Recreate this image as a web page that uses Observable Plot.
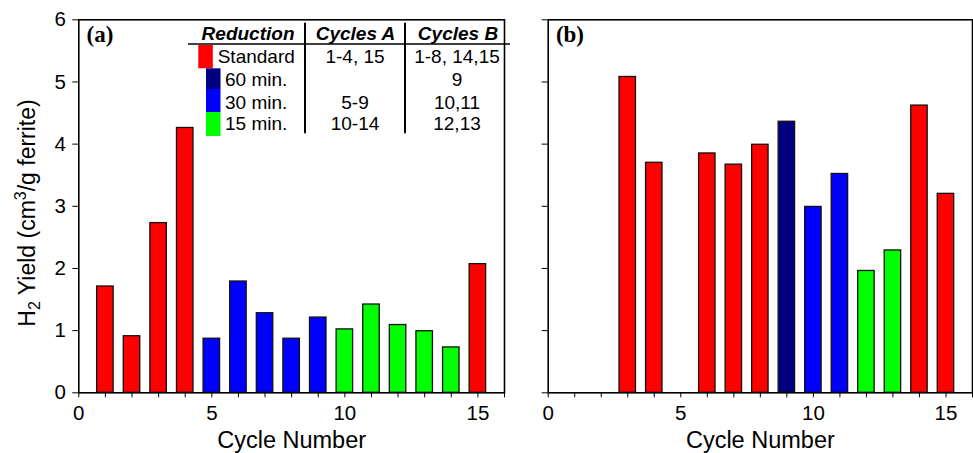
<!DOCTYPE html>
<html>
<head>
<meta charset="utf-8">
<script src="https://cdn.jsdelivr.net/npm/d3@7"></script>
<script src="https://cdn.jsdelivr.net/npm/@observablehq/plot@0.6"></script>
<style>
  body { margin: 0; background: white; }
  #charts { display: flex; width: 973px; height: 453px; }
  #charts svg { display: block; }
</style>
</head>
<body>
<div id="charts"></div>
<script>
// Cycle numbers shared by both panels
const cycles = [1, 2, 3, 4, 5, 6, 7, 8, 9, 10, 11, 12, 13, 14, 15];

// Panel (a): H2 yield per cycle and reduction treatment
const yieldA = [1.71, 0.91, 2.73, 4.26, 0.87, 1.79, 1.28, 0.87, 1.21, 1.02, 1.42, 1.09, 0.99, 0.73, 2.07];
const reductionA = ["Standard", "Standard", "Standard", "Standard",
  "30 min.", "30 min.", "30 min.", "30 min.", "30 min.",
  "15 min.", "15 min.", "15 min.", "15 min.", "15 min.", "Standard"];

// Panel (b): cycles 1, 2 and 5 gave no yield
const yieldB = [0, 0, 5.08, 3.70, 0, 3.85, 3.67, 3.99, 4.36, 2.99, 3.52, 1.96, 2.29, 4.62, 3.20];
const reductionB = ["Standard", "Standard", "Standard", "Standard", "Standard", "Standard", "Standard", "Standard",
  "60 min.", "30 min.", "30 min.", "15 min.", "15 min.", "Standard", "Standard"];

// Reduction treatments, colours and the cycle table
const reductions = ["Standard", "60 min.", "30 min.", "15 min."];
const reductionColors = ["#ff0000", "#000080", "#0000ff", "#00ff00"];
const cyclesA = ["1-4, 15", "", "5-9", "10-14"];
const cyclesB = ["1-8, 14,15", "9", "10,11", "12,13"];
const tableHeaders = ["Reduction", "Cycles A", "Cycles B"];

// Axis ticks
const xTicks = [0, 1, 2, 3, 4, 5, 6, 7, 8, 9, 10, 11, 12, 13, 14, 15, 16];
const xTickLabels = [0, 5, 10, 15];
const yTicks = [0, 1, 2, 3, 4, 5, 6];
const xLabel = "Cycle Number";

const barHalf = 0.31;
const sans = "Liberation Sans, Arial, Helvetica, sans-serif";

function panel({values, treatment, tag, showYLabels, width, marginLeft, marginRight}) {
  const data = cycles
    .map((c, i) => ({cycle: c, value: values[i], reduction: treatment[i]}))
    .filter(d => d.value > 0);
  return Plot.plot({
    width,
    height: 453,
    marginLeft,
    marginRight,
    marginTop: 19.3,
    marginBottom: 60.7,
    style: {fontFamily: sans, fontSize: "20px", background: "transparent", overflow: "visible", color: "black"},
    x: {domain: [0, 16]},
    y: {domain: [0, 6]},
    color: {domain: reductions, range: reductionColors},
    marks: [
      Plot.rect(data, {
        x1: d => d.cycle - barHalf,
        x2: d => d.cycle + barHalf,
        y1: 0,
        y2: "value",
        fill: "reduction",
        stroke: "#111",
        strokeWidth: 1.3
      }),
      Plot.frame({stroke: "black", strokeWidth: 1.6}),
      Plot.axisX({
        ticks: xTicks,
        tickFormat: d => (xTickLabels.includes(d) ? String(d) : ""),
        tickSize: 5,
        tickPadding: 8,
        fontSize: 20.5,
        label: null
      }),
      Plot.axisY({
        ticks: yTicks,
        tickSize: 6,
        tickPadding: 7,
        fontSize: 20.5,
        tickFormat: showYLabels ? d => String(d) : () => "",
        label: null
      }),
      Plot.text([xLabel], {frameAnchor: "bottom", dy: 47.7, fontSize: 23.5, lineAnchor: "middle"}),
      Plot.text([tag], {
        frameAnchor: "top-left", dx: 7.7, dy: 14.7, textAnchor: "start", lineAnchor: "middle",
        fontFamily: "Liberation Serif, Times New Roman, serif", fontWeight: "bold", fontSize: 23
      })
    ]
  });
}

const left = panel({values: yieldA, treatment: reductionA, tag: "(a)", showYLabels: true,
  width: 512, marginLeft: 78.3, marginRight: 8});
const right = panel({values: yieldB, treatment: reductionB, tag: "(b)", showYLabels: false,
  width: 461, marginLeft: 35.7, marginRight: 1});

const host = document.getElementById("charts");
host.appendChild(left);
host.appendChild(right);

// Y-axis title with sub- and superscript
const ySvg = d3.select(left);
const yTitle = ySvg.append("text")
  .attr("transform", "translate(34.5,213) rotate(-90)")
  .attr("text-anchor", "middle")
  .attr("font-family", sans)
  .attr("font-size", 23)
  .attr("fill", "black");
yTitle.append("tspan").text("H");
yTitle.append("tspan").attr("font-size", 16).attr("dy", 5).text("2");
yTitle.append("tspan").attr("dy", -5).text(" Yield (cm");
yTitle.append("tspan").attr("font-size", 16).attr("dy", -9).text("3");
yTitle.append("tspan").attr("dy", 9).text("/g ferrite)");

// Treatment table inside panel (a)
const table = ySvg.append("g").attr("font-family", sans).attr("font-size", 19).attr("fill", "black");
const colCenters = [null, 355.5, 458];
table.append("text").attr("x", 294.5).attr("y", 40).attr("text-anchor", "end")
  .attr("font-weight", "bold").attr("font-style", "italic").text(tableHeaders[0]);
[1, 2].forEach(j => table.append("text").attr("x", colCenters[j]).attr("y", 40).attr("text-anchor", "middle")
  .attr("font-weight", "bold").attr("font-style", "italic").text(tableHeaders[j]));
table.append("line").attr("x1", 188).attr("x2", 510).attr("y1", 44).attr("y2", 44)
  .attr("stroke", "black").attr("stroke-width", 1.5);
[305, 405].forEach(x => table.append("line").attr("x1", x).attr("x2", x).attr("y1", 22.7).attr("y2", 133.3)
  .attr("stroke", "black").attr("stroke-width", 2));

const rowBase = [63, 86, 108.7, 130];
const swatchTop = [45, 68.3, 89, 112];
const swatchBottom = [68.3, 89, 112, 136];
reductions.forEach((r, i) => {
  const sx = i === 0 ? 198.3 : 206;
  table.append("rect").attr("x", sx).attr("y", swatchTop[i]).attr("width", 14.5)
    .attr("height", swatchBottom[i] - swatchTop[i]).attr("fill", reductionColors[i]);
  table.append("text").attr("x", i === 0 ? 217.7 : 225).attr("y", rowBase[i])
    .attr("text-anchor", "start").text(r);
  table.append("text").attr("x", 355).attr("y", rowBase[i]).attr("text-anchor", "middle").text(cyclesA[i]);
  table.append("text").attr("x", 457).attr("y", rowBase[i]).attr("text-anchor", "middle").text(cyclesB[i]);
});
</script>
</body>
</html>
